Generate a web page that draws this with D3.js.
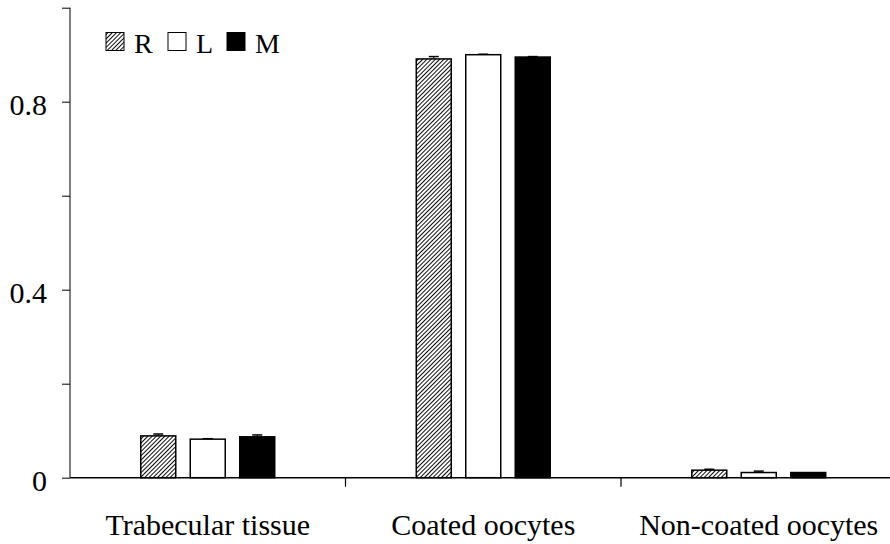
<!DOCTYPE html>
<html><head><meta charset="utf-8">
<script src="https://cdn.jsdelivr.net/npm/d3@7"></script>
<style>body{margin:0;background:#fff}svg{display:block}</style>
</head><body>
<script>
const categories = ["Trabecular tissue", "Coated oocytes", "Non-coated oocytes"];
const seriesNames = ["R", "L", "M"];
const valuesR = [0.089, 0.891, 0.016];
const valuesL = [0.082, 0.900, 0.011];
const valuesM = [0.087, 0.895, 0.011];
const errorsR = [0.004, 0.005, 0.002];
const errorsL = [0.001, 0.001, 0.003];
const errorsM = [0.004, 0.001, 0.000];
const yTicks = [0, 0.2, 0.4, 0.6, 0.8, 1.0];
const yTickLabels = ["0", "", "0.4", "", "0.8", ""];

const W = 890, H = 544;
const FONT = '"Liberation Serif", "Times New Roman", serif';
const svg = d3.select("body").append("svg").attr("width", W).attr("height", H);
const defs = svg.append("defs");
const pat = defs.append("pattern").attr("id", "hatch").attr("patternUnits", "userSpaceOnUse")
  .attr("width", 3).attr("height", 3).attr("patternTransform", "rotate(45)");
pat.append("rect").attr("width", 3).attr("height", 3).attr("fill", "#fff");
pat.append("line").attr("x1", 0).attr("y1", 0).attr("x2", 0).attr("y2", 3)
  .attr("stroke", "#000").attr("stroke-width", 1.9);

const fills = {R: "url(#hatch)", L: "#fff", M: "#000"};
const vals = {R: valuesR, L: valuesL, M: valuesM};
const errs = {R: errorsR, L: errorsL, M: errorsM};

const x0 = d3.scaleBand().domain(categories).range([70, 896.5]).padding(0);
const x1 = d3.scaleBand().domain(seriesNames).range([0, x0.bandwidth()])
  .paddingInner(0.293).paddingOuter(1.43);
const y = d3.scaleLinear().domain([0, 1]).range([477.7, 7.7]);

// bars
categories.forEach((c, i) => {
  const g = svg.append("g").attr("transform", `translate(${x0(c)},0)`);
  seriesNames.forEach(s => {
    const v = vals[s][i], e = errs[s][i];
    const bx = x1(s), bw = x1.bandwidth();
    if (e > 0) {
      const cx = bx + bw / 2;
      g.append("line").attr("x1", cx).attr("x2", cx).attr("y1", y(v)).attr("y2", y(v + e))
        .attr("stroke", "#000").attr("stroke-width", 1);
      g.append("line").attr("x1", cx - 5).attr("x2", cx + 5).attr("y1", y(v + e)).attr("y2", y(v + e))
        .attr("stroke", "#000").attr("stroke-width", 1.5);
    }
    g.append("rect").attr("x", bx).attr("width", bw)
      .attr("y", y(v)).attr("height", y(0) - y(v))
      .attr("fill", fills[s]).attr("stroke", "#000").attr("stroke-width", 1.5);
  });
});

// y axis
const yAxis = d3.axisLeft(y).tickValues(yTicks).tickSize(8).tickPadding(15)
  .tickFormat((d, i) => yTickLabels[i]);
const ya = svg.append("g").attr("transform", "translate(70,0)").call(yAxis);
ya.select(".domain").attr("d", `M0,${y(1)}V${y(0)}`).attr("stroke", "#000").attr("stroke-width", 1);
ya.selectAll(".tick line").attr("stroke", "#000");
ya.selectAll("text").style("font-family", FONT).style("font-size", "30px")
  .attr("fill", "#000").attr("dy", "0.41em");

// x axis
const xa = svg.append("g").attr("transform", `translate(0,${y(0)})`);
xa.append("line").attr("x1", 70).attr("x2", 896.5).attr("y1", 0).attr("y2", 0)
  .attr("stroke", "#000").attr("stroke-width", 1.5);
categories.forEach((c, i) => {
  if (i > 0) {
    xa.append("line").attr("x1", x0(c)).attr("x2", x0(c)).attr("y1", 0).attr("y2", 9)
      .attr("stroke", "#000").attr("stroke-width", 1.2);
  }
  xa.append("text").attr("x", x0(c) + x0.bandwidth() / 2).attr("y", 57)
    .attr("text-anchor", "middle").style("font-family", FONT).style("font-size", "30px")
    .attr("fill", "#000").text(c);
});

// legend
const legend = svg.append("g");
const legX = [106, 168, 227];
seriesNames.forEach((s, i) => {
  legend.append("rect").attr("x", legX[i]).attr("y", 32.5).attr("width", 18).attr("height", 18)
    .attr("fill", fills[s]).attr("stroke", "#000").attr("stroke-width", 1);
  legend.append("text").attr("x", legX[i] + 28).attr("y", 53)
    .style("font-family", FONT).style("font-size", "28px").attr("fill", "#000").text(s);
});
</script>
</body></html>
